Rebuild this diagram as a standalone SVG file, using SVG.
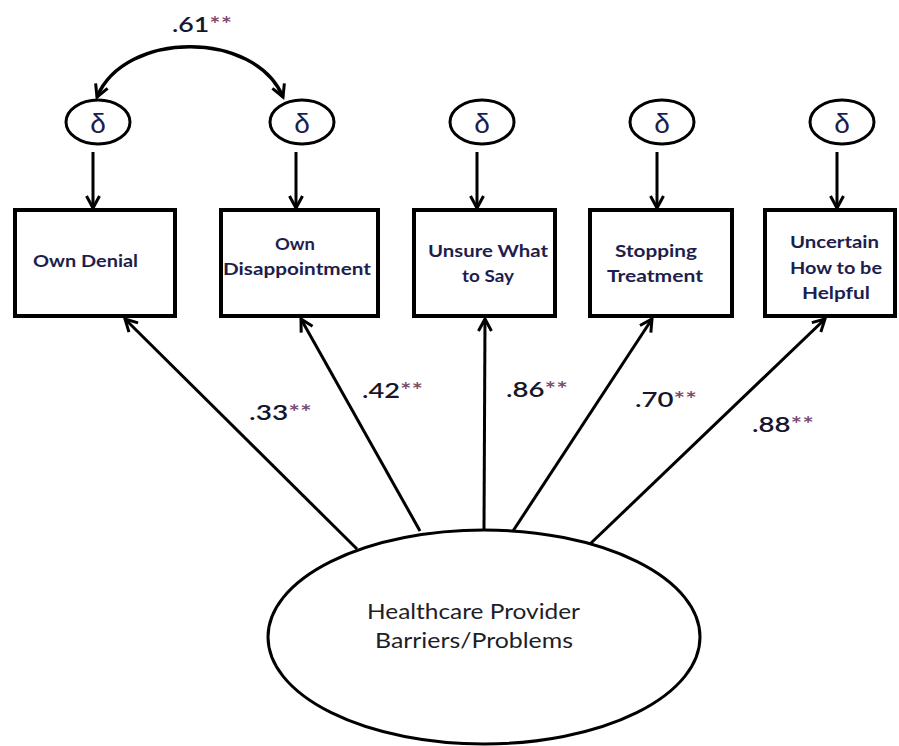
<svg xmlns="http://www.w3.org/2000/svg" width="899" height="746" viewBox="0 0 899 746">
  <style>
    .box { fill: #ffffff; stroke: #000000; stroke-width: 4; }
    .err { fill: #ffffff; stroke: #000000; stroke-width: 3; }
    .latent { fill: #ffffff; stroke: #000000; stroke-width: 3; }
    .edge { fill: none; stroke: #000000; stroke-width: 3; }
    .lbl { font-family: Lato, "Open Sans", "Liberation Sans", sans-serif; font-weight: 700; font-size: 17px; fill: #1e1e4e; text-anchor: middle; }
    .delta { font-family: "Liberation Sans", "DejaVu Sans", sans-serif; font-size: 28px; fill: #1e1e4e; text-anchor: middle; }
    .coef { font-family: Lato, "Open Sans", "Liberation Sans", sans-serif; font-weight: 600; font-size: 21px; fill: #16162a; }
    .star { fill: #7a4868; }
    .big { font-family: Lato, "Open Sans", "Liberation Sans", sans-serif; font-size: 21px; fill: #1e1e28; text-anchor: middle; }
  </style>
  <defs>
    <marker id="arrow" markerUnits="userSpaceOnUse" viewBox="-16 -10 20 20" markerWidth="20" markerHeight="20" refX="0" refY="0" orient="auto-start-reverse" overflow="visible">
      <path d="M-12,-6.5 L0,0 L-12,6.5" fill="none" stroke="#000000" stroke-width="3" stroke-linejoin="miter"/>
    </marker>
  </defs>

  <!-- connectors -->
  <g id="connectors" class="edge" marker-end="url(#arrow)">
    <!-- residual covariance -->
    <path d="M97,97 C125,30 255,30 283,97" stroke-width="3.5" marker-start="url(#arrow)"/>
    <!-- residual paths -->
    <line x1="93" y1="152" x2="93" y2="208"/>
    <line x1="296" y1="152" x2="296" y2="208"/>
    <line x1="477" y1="152" x2="477" y2="208"/>
    <line x1="657" y1="152" x2="657" y2="208"/>
    <line x1="837" y1="152" x2="837" y2="208"/>
    <!-- factor loadings -->
    <line x1="357" y1="549" x2="125" y2="319"/>
    <line x1="420" y1="531" x2="301" y2="319"/>
    <line x1="484" y1="529" x2="485" y2="319"/>
    <line x1="513" y1="531" x2="652" y2="319"/>
    <line x1="590" y1="544" x2="825" y2="319"/>
  </g>

  <!-- covariance label -->
  <text class="coef" x="172" y="32" textLength="60" lengthAdjust="spacingAndGlyphs">.61<tspan class="star">**</tspan></text>

  <!-- loading labels -->
  <text class="coef" x="249" y="420" textLength="63" lengthAdjust="spacingAndGlyphs">.33<tspan class="star">**</tspan></text>
  <text class="coef" x="362" y="398" textLength="61" lengthAdjust="spacingAndGlyphs">.42<tspan class="star">**</tspan></text>
  <text class="coef" x="506" y="397" textLength="62" lengthAdjust="spacingAndGlyphs">.86<tspan class="star">**</tspan></text>
  <text class="coef" x="635" y="407" textLength="62" lengthAdjust="spacingAndGlyphs">.70<tspan class="star">**</tspan></text>
  <text class="coef" x="752" y="432" textLength="62" lengthAdjust="spacingAndGlyphs">.88<tspan class="star">**</tspan></text>

  <!-- error terms -->
  <g id="e1"><ellipse class="err" cx="98" cy="122" rx="32" ry="22"/><text class="delta" x="98" y="133">δ</text></g>
  <g id="e2"><ellipse class="err" cx="302" cy="122" rx="32" ry="22"/><text class="delta" x="302" y="133">δ</text></g>
  <g id="e3"><ellipse class="err" cx="482" cy="122" rx="32" ry="22"/><text class="delta" x="482" y="133">δ</text></g>
  <g id="e4"><ellipse class="err" cx="662" cy="122" rx="32" ry="22"/><text class="delta" x="662" y="133">δ</text></g>
  <g id="e5"><ellipse class="err" cx="842" cy="122" rx="32" ry="22"/><text class="delta" x="842" y="133">δ</text></g>

  <!-- observed indicators -->
  <g id="own-denial">
    <rect class="box" x="15" y="210" width="160" height="106"/>
    <text class="lbl" x="85.5" y="267" textLength="105" lengthAdjust="spacingAndGlyphs">Own Denial</text>
  </g>
  <g id="own-disappointment">
    <rect class="box" x="221" y="210" width="157" height="106"/>
    <text class="lbl" x="295" y="250" textLength="40" lengthAdjust="spacingAndGlyphs">Own</text>
    <text class="lbl" x="297" y="275" textLength="148" lengthAdjust="spacingAndGlyphs">Disappointment</text>
  </g>
  <g id="unsure-what-to-say">
    <rect class="box" x="414" y="210" width="141" height="106"/>
    <text class="lbl" x="488" y="257" textLength="120" lengthAdjust="spacingAndGlyphs">Unsure What</text>
    <text class="lbl" x="488" y="282" textLength="52" lengthAdjust="spacingAndGlyphs">to Say</text>
  </g>
  <g id="stopping-treatment">
    <rect class="box" x="590" y="210" width="142" height="106"/>
    <text class="lbl" x="656" y="257" textLength="82" lengthAdjust="spacingAndGlyphs">Stopping</text>
    <text class="lbl" x="655" y="282" textLength="96" lengthAdjust="spacingAndGlyphs">Treatment</text>
  </g>
  <g id="uncertain-how-to-be-helpful">
    <rect class="box" x="765" y="210" width="130" height="106"/>
    <text class="lbl" x="834.5" y="248" textLength="89" lengthAdjust="spacingAndGlyphs">Uncertain</text>
    <text class="lbl" x="836" y="274" textLength="92" lengthAdjust="spacingAndGlyphs">How to be</text>
    <text class="lbl" x="836" y="299" textLength="68" lengthAdjust="spacingAndGlyphs">Helpful</text>
  </g>

  <!-- latent factor -->
  <g id="healthcare-provider-barriers">
    <ellipse class="latent" cx="484" cy="637" rx="216" ry="107"/>
    <text class="big" x="473.5" y="619" textLength="213" lengthAdjust="spacingAndGlyphs">Healthcare Provider</text>
    <text class="big" x="474" y="648" textLength="198" lengthAdjust="spacingAndGlyphs">Barriers/Problems</text>
  </g>
</svg>
